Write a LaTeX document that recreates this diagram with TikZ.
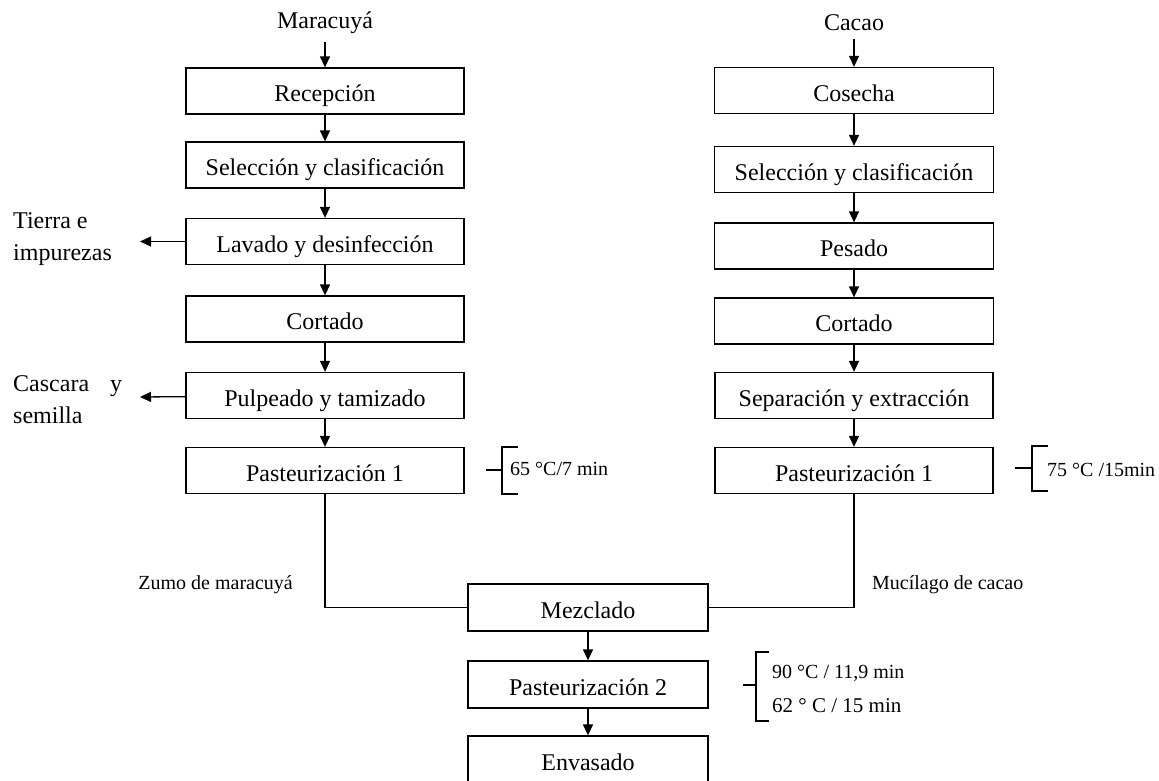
\documentclass[tikz,border=0pt]{standalone}
\usepackage{fontspec}
\setmainfont{Liberation Serif}
\usetikzlibrary{%
  arrows.meta,%
  calc%
}

\begin{document}
\begin{tikzpicture}[x=1pt, y=-1pt,
    box/.style={draw, line width=1.3pt, inner sep=0pt,
      minimum width=278pt, minimum height=46pt,
      text height=22pt, text depth=1pt,
      font=\fontsize{24}{33}\selectfont},
    smallbox/.style={box, minimum width=240pt, minimum height=47pt},
    title/.style={inner sep=0pt, font=\fontsize{24}{32}\selectfont},
    note/.style={inner sep=0pt, font=\fontsize{20}{33}\selectfont},
    flow/.style={line width=1.3pt, -{Triangle[length=11pt, width=10pt]}},
    joint/.style={line width=1.3pt}]

  \useasboundingbox (0,0) rectangle (1159,780);

  \def\xM{325}
  \def\xC{854}
  \def\xB{588}

  \node[title] (mara) at (\xM, 23) {Maracuyá};
  \node[box] (mRec) at (\xM, 91)    {Recepción};
  \node[box] (mSel) at (\xM, 165)   {Selección y clasificación};
  \node[box] (mLav) at (\xM, 241.5) {Lavado y desinfección};
  \node[box] (mCor) at (\xM, 319)   {Cortado};
  \node[box] (mPul) at (\xM, 395.5) {Pulpeado y tamizado};
  \node[box] (mPas) at (\xM, 470.5) {Pasteurización 1};

  \draw[flow, shorten <=8pt] (mara) -- (mRec);
  \draw[flow] (mRec) -- (mSel);
  \draw[flow] (mSel) -- (mLav);
  \draw[flow] (mLav) -- (mCor);
  \draw[flow] (mCor) -- (mPul);
  \draw[flow] (mPul) -- (mPas);

  \coordinate (outA) at (140, 241.5);
  \coordinate (outB) at (140, 397);
  \draw[flow] (mLav) -- (outA);
  \draw[flow] (mPul) -- (outB);
  \node[title, anchor=west, align=left] (tierra) at (13, 239.5) {Tierra e\\impurezas};
  \node[title, anchor=west, align=left] (cascara) at (13, 400) {Cascara\hspace{21pt}y\\semilla};

  \node[title] (cacao) at (\xC, 23) {Cacao};
  \node[box, minimum width=279pt] (cCos) at (\xC, 90.5)  {Cosecha};
  \node[box, minimum width=279pt] (cSel) at (\xC, 169.5) {Selección y clasificación};
  \node[box, minimum width=279pt] (cPes) at (\xC, 246)   {Pesado};
  \node[box, minimum width=279pt] (cCor) at (\xC, 321)   {Cortado};
  \node[box] (cSep) at (\xC, 395.5) {Separación y extracción};
  \node[box] (cPas) at (\xC, 470.5) {Pasteurización 1};

  \draw[flow, shorten <=8pt] (cacao) -- (cCos);
  \draw[flow] (cCos) -- (cSel);
  \draw[flow] (cSel) -- (cPes);
  \draw[flow] (cPes) -- (cCor);
  \draw[flow] (cCor) -- (cSep);
  \draw[flow] (cSep) -- (cPas);

  \draw[joint] (486,470) -- (502,470) (518,447) -- (502,447) -- (502,494) -- (518,494);
  \node[note, anchor=west] (tempA) at (510, 469) {65 °C/7 min};

  \draw[joint] (1015,468) -- (1032,468) (1048,446) -- (1032,446) -- (1032,491) -- (1048,491);
  \node[note, anchor=west] (tempB) at (1047, 470) {75 °C /15min};

  \node[smallbox] (mez)  at (\xB, 607.5) {Mezclado};
  \node[smallbox] (pas2) at (\xB, 684.5) {Pasteurización 2};
  \node[smallbox] (env)  at (\xB, 759.5) {Envasado};

  \draw[joint] (mPas.south) |- (mez.west);
  \draw[joint] (cPas.south) |- (mez.east);
  \node[note, anchor=east] (zumo) at (293, 585) {Zumo de maracuyá};
  \node[note, anchor=west] (muci) at (872, 585) {Mucílago de cacao};

  \draw[flow] (mez) -- (pas2);
  \draw[flow] (pas2) -- (env);

  \draw[joint] (743,685) -- (756,685) (769,652) -- (756,652) -- (756,721) -- (769,721);
  \node[note, anchor=west] (tempC) at (772, 673) {90 °C / 11,9 min};
  \node[note, anchor=west, font=\fontsize{21}{33}\selectfont] (tempD) at (772, 706) {62 ° C / 15 min};

\end{tikzpicture}
\end{document}
